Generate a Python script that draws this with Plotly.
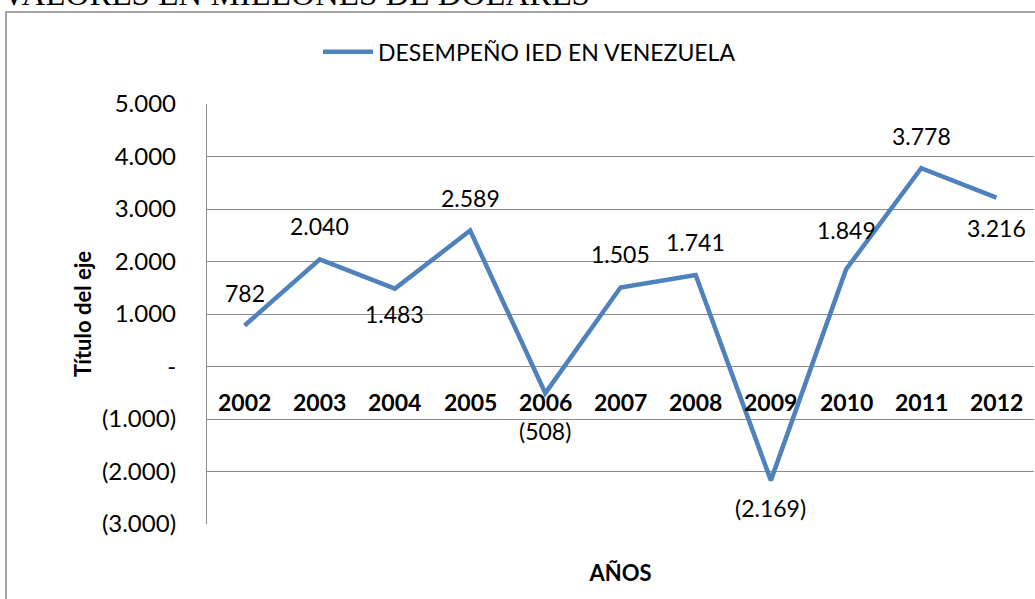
import plotly.graph_objects as go

# Data (millones de USD)
years = ['2002', '2003', '2004', '2005', '2006', '2007', '2008', '2009', '2010', '2011', '2012']
ied = [782, 2040, 1483, 2589, -508, 1505, 1741, -2169, 1849, 3778, 3216]
y_ticks = [-3000, -2000, -1000, 0, 1000, 2000, 3000, 4000, 5000]

# vertical offset (px) of each data label from its point; + is above
label_shift = [32, 33, -25, 33, -38, 33, 33, -28, 39, 32, -30]

BLUE = '#4F81BD'
GRID = '#8C8C8C'
FONT = 'Lato'


def fmt(v):
    """Excel style accounting format: 1.000 / (1.000) / -"""
    if v == 0:
        return '-'
    s = f"{abs(v):,}".replace(',', '.')
    return f"({s})" if v < 0 else s


fig = go.Figure()

fig.add_trace(go.Scatter(
    x=years,
    y=ied,
    mode='lines',
    name='DESEMPEÑO IED EN VENEZUELA',
    line=dict(color=BLUE, width=4.5),
    cliponaxis=False,
))

# data labels and year labels (annotations on a category axis use the index)
for i, (yr, v) in enumerate(zip(years, ied)):
    fig.add_annotation(x=i, y=v, xref='x', yref='y', text=fmt(v),
                       showarrow=False, yanchor='middle', yshift=label_shift[i],
                       font=dict(family=FONT, size=23, color='black'))
    # year labels sit next to the zero line, like the Excel category axis
    fig.add_annotation(x=i, y=0, xref='x', yref='y', text=f"<b>{yr}</b>",
                       showarrow=False, yanchor='top', yshift=-19,
                       font=dict(family=FONT, size=23, color='black'))

# chart title (cut off at the top in the original)
fig.add_annotation(x=-0.2503, y=1.262, xref='paper', yref='paper',
                   text='VALORES EN MILLONES DE DOLARES', showarrow=False,
                   xanchor='left', yanchor='middle',
                   font=dict(family='Liberation Serif', size=33, color='black'))

# outer chart border
fig.add_shape(type='rect', xref='paper', yref='paper',
              x0=-0.243, x1=1.3, y0=-0.5, y1=1.219,
              line=dict(color='#888888', width=1.5))

fig.update_layout(
    width=1035,
    height=599,
    margin=dict(l=207, r=1, t=104, b=75, autoexpand=False),
    paper_bgcolor='white',
    plot_bgcolor='white',
    font=dict(family=FONT, color='black'),
    showlegend=True,
    legend=dict(orientation='h', x=0.39, y=1.124, xanchor='center', yanchor='middle',
                font=dict(family=FONT, size=23, color='black'), itemwidth=50),
)

fig.update_xaxes(
    type='category',
    range=[-0.5, 10.5],
    showticklabels=False,
    showgrid=False,
    zeroline=False,
    showline=False,
    title=dict(text='<b>AÑOS</b>', font=dict(family=FONT, size=22, color='black'), standoff=41),
)

fig.update_yaxes(
    range=[-3000, 5000],
    tickvals=y_ticks,
    ticktext=[fmt(v) for v in y_ticks],
    tickfont=dict(family=FONT, size=24, color='black'),
    ticklabelstandoff=25,
    showgrid=True,
    gridcolor=GRID,
    gridwidth=1.3,
    zeroline=False,
    showline=True,
    linecolor=GRID,
    linewidth=1.3,
    title=dict(text='<b>Título del eje</b>', font=dict(family=FONT, size=22, color='black'), standoff=4),
)

# drop the browser's default body margin so the chart fills the window
fig.write_html("out.html", config={'displayModeBar': False},
               post_script="document.body.style.margin = '0';")
